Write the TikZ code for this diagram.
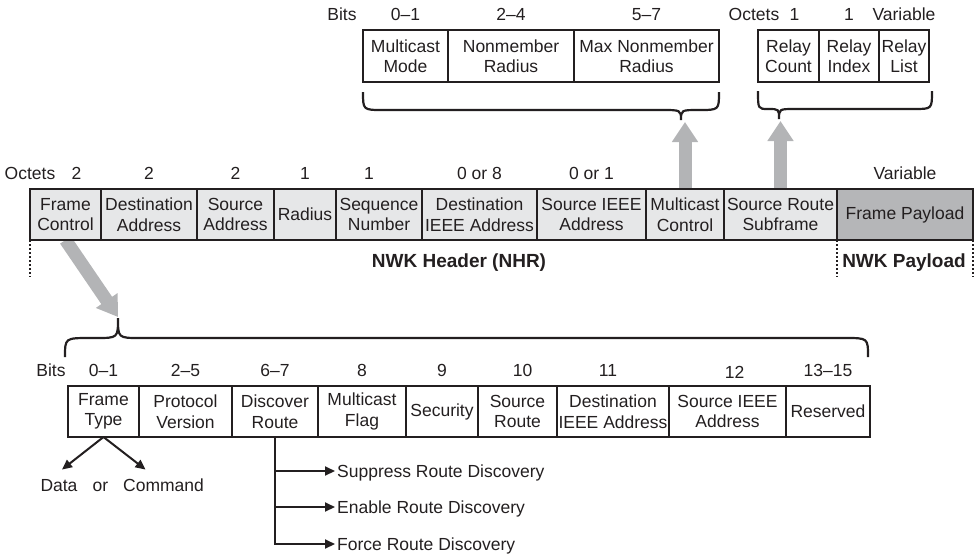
\documentclass[tikz,border=0pt]{standalone}
\usepackage{fontspec}
\setmainfont{Liberation Sans}
\usetikzlibrary{arrows.meta, positioning, backgrounds}
\definecolor{ink}{HTML}{231F20}
\definecolor{cellgray}{HTML}{E6E7E8}
\definecolor{paygray}{HTML}{B5B6B8}
\definecolor{arrowgray}{HTML}{B3B4B6}

\begin{document}
\begin{tikzpicture}[
  x=1pt, y=-1pt,
  font=\fontsize{17.5}{20.5}\selectfont,
  cell/.style={draw=ink, line width=2pt, outer sep=0pt, inner sep=1pt, align=center, minimum height=51pt, text=ink},
  hdr/.style={cell, fill=cellgray},
  lbl/.style={text=ink, inner sep=2pt, text height=12.5pt, text depth=0pt},
  bold/.style={text=ink, font=\fontsize{19}{22}\selectfont\bfseries},
  bigarrow/.style={-{Triangle[width=25pt, length=20pt]}, line width=13pt, arrowgray},
  arrow/.style={-{Triangle[width=9pt, length=10pt]}, line width=2pt, ink},
  brace/.style={line width=2.2pt, ink},
  dots/.style={line width=2pt, dash pattern=on 2pt off 2pt, ink}
]
  \useasboundingbox (0,0) rectangle (976,557);

  % NWK frame
  \node[hdr, minimum width=71pt] (fc) at (65.5,214.5) {Frame\\Control};
  \node[hdr, minimum width=96pt, right=0pt of fc] (da) {Destination\\Address};
  \node[hdr, minimum width=77pt, right=0pt of da] (sa) {Source\\Address};
  \node[hdr, minimum width=62pt, right=0pt of sa] (rad) {Radius};
  \node[hdr, minimum width=86pt, right=0pt of rad] (seq) {Sequence\\Number};
  \node[hdr, minimum width=115pt, right=0pt of seq] (dieee) {Destination\\IEEE Address};
  \node[hdr, minimum width=109pt, right=0pt of dieee] (sieee) {Source IEEE\\Address};
  \node[hdr, minimum width=78pt, right=0pt of sieee] (mcast) {Multicast\\Control};
  \node[hdr, minimum width=113pt, right=0pt of mcast] (srsub) {Source Route\\Subframe};
  \node[cell, fill=paygray, minimum width=136pt, right=0pt of srsub] (payload) {Frame Payload};

  \node[lbl, above=7pt of fc.north west] {Octets};
  \node[lbl, above=7pt of fc, xshift=11pt] {2};
  \node[lbl, above=7pt of da] {2};
  \node[lbl, above=7pt of sa] {2};
  \node[lbl, above=7pt of rad] {1};
  \node[lbl, above=7pt of seq, xshift=-10pt] {1};
  \node[lbl, above=7pt of dieee] {0 or 8};
  \node[lbl, above=7pt of sieee] {0 or 1};
  \node[lbl, above=7pt of payload] {Variable};

  \draw[dots] (fc.south west) -- ++(0,37);
  \draw[dots] (payload.south west) -- ++(0,37);
  \draw[dots] (payload.south east) -- ++(0,37);
  \node[bold] (nhr) at (459,263) {NWK Header (NHR)};
  \node[bold] (nwkpay) at (904,263) {NWK Payload};

  % multicast control fields
  \node[cell, minimum width=85pt, minimum height=52pt] (mm) at (405.5,56) {Multicast\\Mode};
  \node[cell, minimum width=126pt, minimum height=52pt, right=0pt of mm] (nr) {Nonmember\\Radius};
  \node[cell, minimum width=145pt, minimum height=52pt, right=0pt of nr] (mnr) {Max Nonmember\\Radius};
  \node[lbl, above=7pt of mm.north west, xshift=-21pt] {Bits};
  \node[lbl, above=7pt of mm] {0--1};
  \node[lbl, above=7pt of nr] {2--4};
  \node[lbl, above=7pt of mnr] {5--7};

  % source route subframe fields
  \node[cell, minimum width=61pt, minimum height=52pt] (rc) at (788.5,56) {Relay\\Count};
  \node[cell, minimum width=60pt, minimum height=52pt, right=0pt of rc] (ri) {Relay\\Index};
  \node[cell, minimum width=50pt, minimum height=52pt, right=0pt of ri] (rl) {Relay\\List};
  \node[lbl, above=7pt of rc.north west, xshift=-4pt] {Octets};
  \node[lbl, above=7pt of rc, xshift=6pt] {1};
  \node[lbl, above=7pt of ri] {1};
  \node[lbl, above=7pt of rl] {Variable};

  % frame control fields
  \node[cell, minimum width=71pt] (ft) at (103.5,411.5) {Frame\\Type};
  \node[cell, minimum width=93pt, right=0pt of ft] (pv) {Protocol\\Version};
  \node[cell, minimum width=86pt, right=0pt of pv] (dr) {Discover\\Route};
  \node[cell, minimum width=88pt, right=0pt of dr] (mf) {Multicast\\Flag};
  \node[cell, minimum width=72pt, right=0pt of mf] (sec) {Security};
  \node[cell, minimum width=79pt, right=0pt of sec] (sr) {Source\\Route};
  \node[cell, minimum width=112pt, right=0pt of sr] (dieeeb) {Destination\\IEEE Address};
  \node[cell, minimum width=117pt, right=0pt of dieeeb] (sieeeb) {Source IEEE\\Address};
  \node[cell, minimum width=84pt, right=0pt of sieeeb] (res) {Reserved};
  \node[lbl, above=7pt of ft.north west, xshift=-17pt] {Bits};
  \node[lbl, above=7pt of ft] {0--1};
  \node[lbl, above=7pt of pv] {2--5};
  \node[lbl, above=7pt of dr] {6--7};
  \node[lbl, above=7pt of mf] {8};
  \node[lbl, above=7pt of sec] {9};
  \node[lbl, above=7pt of sr, xshift=5pt] {10};
  \node[lbl, above=7pt of dieeeb, xshift=-5pt] {11};
  \node[lbl, above=5pt of sieeeb, xshift=7pt] {12};
  \node[lbl, above=7pt of res] {13--15};

  % braces
  \draw[brace] (363,92) .. controls (363,110) .. (383,110) -- (661,110)
    .. controls (681,110) .. (681,120) .. controls (681,110) .. (699,110)
    .. controls (719,110) .. (719,92);
  \draw[brace] (758,91) .. controls (758,109) .. (768,109)
    .. controls (779,109) .. (779,119) .. controls (779,109) .. (795,109) -- (914,109)
    .. controls (932,109) .. (932,91);
  \draw[brace] (65,357) .. controls (65,338) .. (90,338) -- (96,338)
    .. controls (118,338) .. (118,318) .. controls (118,338) .. (140,338) -- (845,338)
    .. controls (868,338) .. (868,357);
  \coordinate (mctip) at (681,122);
  \coordinate (srtip) at (779,121);
  \coordinate (fctip) at (118,317);

  \begin{scope}[on background layer]
    \draw[bigarrow] (mcast.north) -- (mcast.north |- mctip);
    \draw[bigarrow] (srsub.north) -- (srsub.north |- srtip);
    \draw[bigarrow] (fc.south) -- (fctip);
  \end{scope}

  % frame type values
  \node[lbl] (data) at (59,485) {Data};
  \node[lbl] (ortxt) at (100.5,485) {or};
  \node[lbl] (cmd) at (163.5,485) {Command};
  \draw[arrow] (ft.south) -- ([xshift=3pt, yshift=7pt]data.north);
  \draw[arrow] (ft.south) -- ([xshift=-18pt, yshift=7pt]cmd.north);

  % discover route values
  \node[lbl, anchor=west] (sup) at (335,471) {Suppress Route Discovery};
  \node[lbl, anchor=west] (ena) at (335,507) {Enable Route Discovery};
  \node[lbl, anchor=west] (frc) at (335,544) {Force Route Discovery};
  \draw[arrow] (dr.south) |- (sup.west);
  \draw[arrow] (dr.south) |- (ena.west);
  \draw[arrow] (dr.south) |- (frc.west);
\end{tikzpicture}
\end{document}
